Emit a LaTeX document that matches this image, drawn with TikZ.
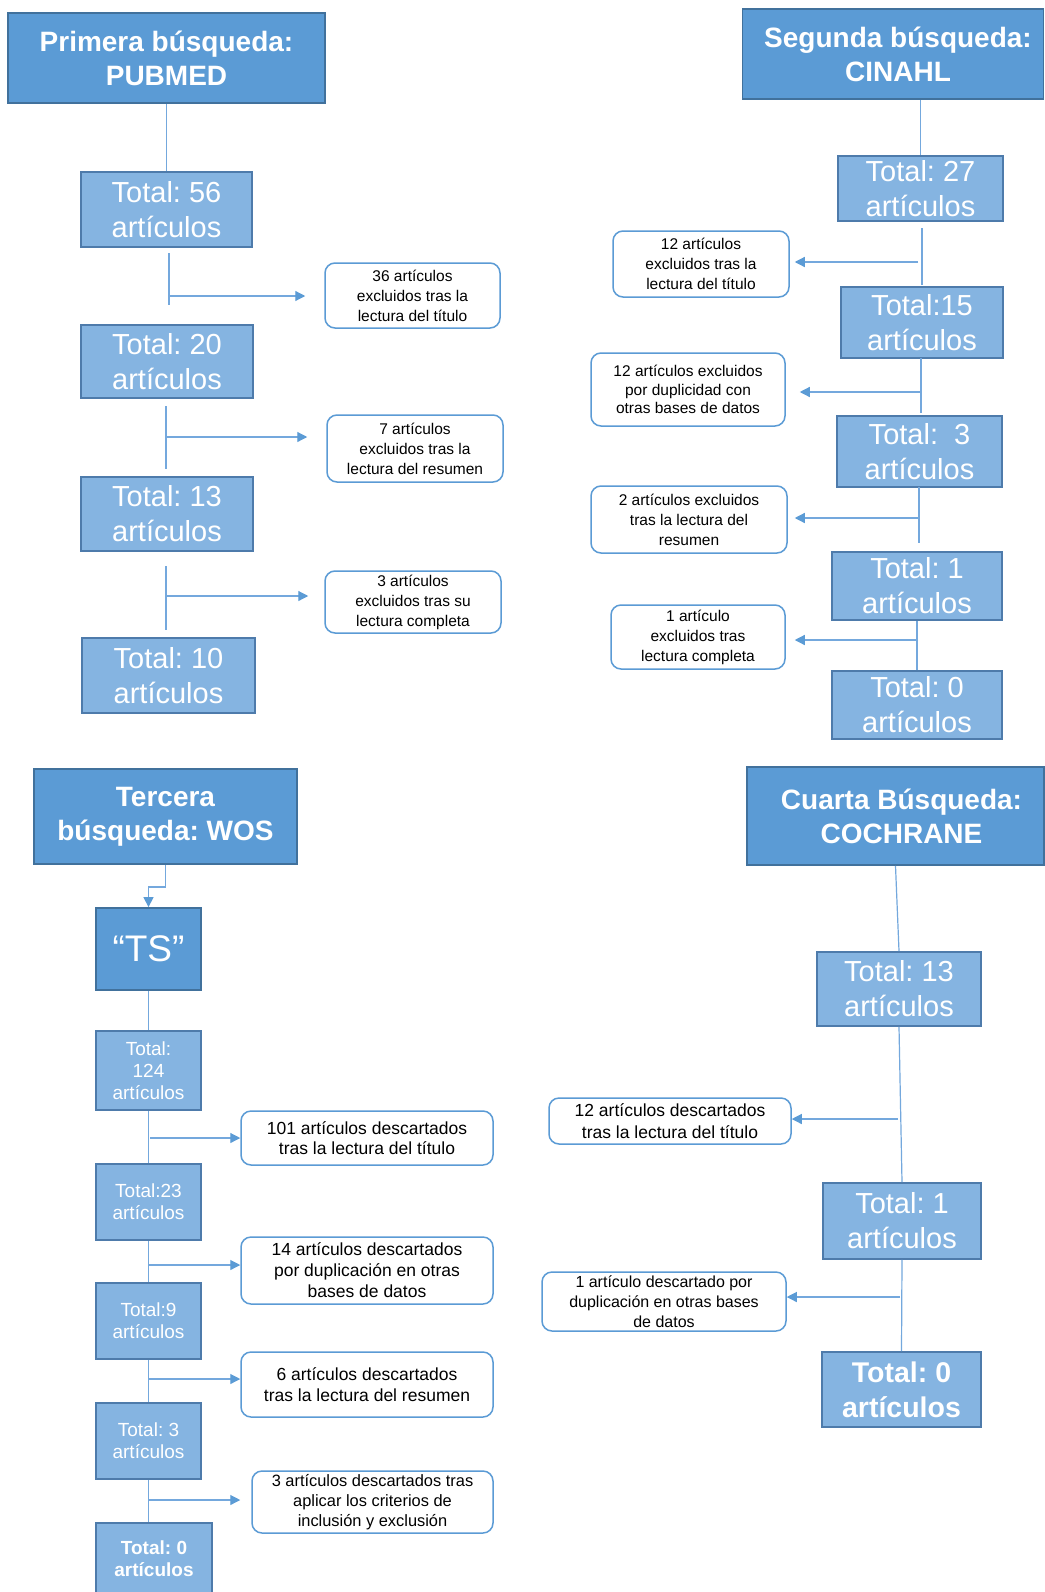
\documentclass[tikz,border=0pt]{standalone}
\usepackage{fontspec}
\setmainfont{Liberation Sans}
\usetikzlibrary{arrows.meta,calc}
\definecolor{titlefill}{HTML}{5B9BD5}
\definecolor{titledraw}{HTML}{41719C}
\definecolor{totfill}{HTML}{85B4E1}
\definecolor{totdraw}{HTML}{4E7BAB}
\definecolor{conncol}{HTML}{74A8DD}
\definecolor{tipcol}{HTML}{5B9BD5}
\definecolor{notedraw}{HTML}{5B9BD5}
\tikzset{
 titlebox/.style={draw=titledraw, fill=titlefill, line width=1.8pt, text=white, align=center, inner sep=0pt, font=\fontsize{28}{34}\selectfont\bfseries},
 totbox/.style={draw=totdraw, fill=totfill, line width=1.8pt, text=white, align=center, inner sep=0pt, font=\fontsize{29}{35}\selectfont},
 smalltot/.style={totbox, font=\fontsize{19}{22}\selectfont},
 note/.style={draw=notedraw, fill=white, line width=1.5pt, rounded corners=10pt, align=center, inner sep=0pt, text=black, font=\fontsize{15.5}{20}\selectfont},
 bignote/.style={note, font=\fontsize{17.5}{21}\selectfont},
 conn/.style={draw=conncol, line width=1.2pt},
 arr/.style={conn, -{Triangle[length=10pt,width=10pt,color=tipcol]}},
}
\begin{document}
\frenchspacing
\begin{tikzpicture}[x=1pt,y=-1pt]
\useasboundingbox[fill=white] (0,0) rectangle (1044,1592);
% ---------- Primera busqueda ----------
\node[titlebox, minimum width=317pt, minimum height=90pt] (t1) at (166.5,58) {Primera búsqueda:\\PUBMED};
\node[totbox, minimum width=171pt, minimum height=75pt] (a56) at (166.5,209.5) {Total: 56\\artículos};
\node[totbox, minimum width=172pt, minimum height=73pt] (a20) at (167,361.5) {Total: 20\\artículos};
\node[totbox, minimum width=172pt, minimum height=74pt] (a13) at (167,514) {Total: 13\\artículos};
\node[totbox, minimum width=173pt, minimum height=75pt] (a10) at (168.5,675.5) {Total: 10\\artículos};
\node[note, minimum width=175pt, minimum height=65pt] (e36) at (412.5,295.5) {36 artículos\\excluidos tras la\\lectura del título};
\node[note, minimum width=176pt, minimum height=67pt] (e7) at (415,448.5) {7 artículos\\excluidos tras la\\lectura del resumen};
\node[note, minimum width=176pt, minimum height=62pt] (e3) at (413,602) {3 artículos\\excluidos tras su\\lectura completa};
\draw[conn] (t1.south) -- (a56.north);
\coordinate (l1a) at (169,253); \coordinate (l1b) at (169,305); \coordinate (l1m) at (169,296);
\coordinate (l2a) at (166,406); \coordinate (l2b) at (166,469); \coordinate (l2m) at (166,437);
\coordinate (l3a) at (166,566); \coordinate (l3b) at (166,630); \coordinate (l3m) at (166,596);
\draw[conn] (l1a) -- (l1b);
\draw[conn] (l2a) -- (l2b);
\draw[conn] (l3a) -- (l3b);
\draw[arr, shorten >=19pt] (l1m) -- (l1m -| e36.west);
\draw[arr, shorten >=19pt] (l2m) -- (l2m -| e7.west);
\draw[arr, shorten >=16pt] (l3m) -- (l3m -| e3.west);
% ---------- Segunda busqueda ----------
\node[titlebox, minimum width=301pt, minimum height=90pt] (t2) at (893,54) {\hspace*{10pt}Segunda búsqueda:\\\hspace*{10pt}CINAHL};
\node[totbox, minimum width=165pt, minimum height=65pt] (b27) at (920.5,188.5) {Total: 27\\artículos};
\node[totbox, minimum width=162pt, minimum height=71pt] (b15) at (922,322.5) {Total:15\\artículos};
\node[totbox, minimum width=165pt, minimum height=71pt] (b3) at (919.5,451.5) {Total:~~3\\artículos};
\node[totbox, minimum width=170pt, minimum height=68pt] (b1) at (917,586) {Total: 1\\artículos};
\node[totbox, minimum width=170pt, minimum height=68pt] (b0) at (917,705) {Total: 0\\artículos};
\node[note, minimum width=176pt, minimum height=66pt] (f12) at (701,264) {12 artículos\\excluidos tras la\\lectura del título};
\node[note, minimum width=194pt, minimum height=73pt, font=\fontsize{15.5}{18.5}\selectfont] (fdup) at (688,389.5) {12 artículos excluidos\\por duplicidad con\\otras bases de datos};
\node[note, minimum width=196pt, minimum height=67pt] (f2) at (689,519.5) {2 artículos excluidos\\tras la lectura del\\resumen};
\node[note, minimum width=174pt, minimum height=64pt] (f1) at (698,637) {1 artículo\\excluidos tras\\lectura completa};
\draw[conn] (b27.north) -- (b27.north |- t2.south);
\coordinate (r1a) at (922,228); \coordinate (r1b) at (922,285); \coordinate (r1m) at (918,262);
\coordinate (r2a) at (921,358); \coordinate (r2b) at (921,413); \coordinate (r2m) at (921,392);
\coordinate (r3a) at (919,487); \coordinate (r3b) at (919,543); \coordinate (r3m) at (918,518);
\coordinate (r4m) at (918,640);
\draw[conn] (r1a) -- (r1b);
\draw[conn] (r2a) -- (r2b);
\draw[conn] (r3a) -- (r3b);
\draw[conn] (b1.south) -- (b0.north);
\draw[arr, shorten >=5pt] (r1m) -- (r1m -| f12.east);
\draw[arr, shorten >=14pt] (r2m) -- (r2m -| fdup.east);
\draw[arr, shorten >=7pt] (r3m) -- (r3m -| f2.east);
\draw[arr, shorten >=9pt] (r4m) -- (r4m -| f1.east);
% ---------- Tercera busqueda ----------
\node[titlebox, minimum width=263pt, minimum height=95pt] (t3) at (165.5,816.5) {Tercera\\búsqueda: WOS};
\node[draw=titledraw, fill=titlefill, line width=1.8pt, text=white, inner sep=0pt, minimum width=105pt, minimum height=82pt, font=\fontsize{37}{40}\selectfont] (ts) at (148.5,949) {“TS”};
\node[smalltot, minimum width=105pt, minimum height=79pt] (w124) at (148.5,1070.5) {Total:\\124\\artículos};
\node[smalltot, minimum width=105pt, minimum height=76pt] (w23) at (148.5,1202) {Total:23\\artículos};
\node[smalltot, minimum width=105pt, minimum height=76pt] (w9) at (148.5,1321) {Total:9\\artículos};
\node[smalltot, minimum width=105pt, minimum height=76pt] (w3) at (148.5,1441) {Total: 3\\artículos};
\node[smalltot, minimum width=116pt, minimum height=71pt, font=\fontsize{19}{22}\selectfont\bfseries] (w0) at (154,1558.5) {Total: 0\\artículos};
\node[bignote, minimum width=252pt, minimum height=54pt, font=\fontsize{17.5}{20}\selectfont] (g101) at (367,1138) {101 artículos descartados\\tras la lectura del título};
\node[bignote, minimum width=252pt, minimum height=67pt] (g14) at (367,1270.5) {14 artículos descartados\\por duplicación en otras\\bases de datos};
\node[bignote, minimum width=252pt, minimum height=65pt] (g6) at (367,1384.5) {6 artículos descartados\\tras la lectura del resumen};
\node[note, minimum width=241pt, minimum height=62pt, font=\fontsize{16.4}{20}\selectfont] (g3) at (372.5,1502) {3 artículos descartados tras\\aplicar los criterios de\\inclusión y exclusión};
\coordinate (k3) at (0,887);
\draw[arr] (t3.south) -- (t3.south |- k3) -| (ts.north);
\draw[conn] (ts.south) -- (w124.north);
\draw[conn] (w124.south) -- (w23.north);
\draw[conn] (w23.south) -- (w9.north);
\draw[conn] (w9.south) -- (w3.north);
\draw[conn] (w3.south) -- (w3.south |- w0.north);
\coordinate (w1m) at (150,1138); \coordinate (w2m) at (148,1265);
\coordinate (w3m) at (148,1379); \coordinate (w4m) at (148,1500);
\draw[arr] (w1m) -- (w1m -| g101.west);
\draw[arr] (w2m) -- (w2m -| g14.west);
\draw[arr] (w3m) -- (w3m -| g6.west);
\draw[arr, shorten >=11pt] (w4m) -- (w4m -| g3.west);
% ---------- Cuarta busqueda ----------
\node[titlebox, minimum width=297pt, minimum height=98pt] (t4) at (895.5,816) {\hspace*{12pt}Cuarta Búsqueda:\\\hspace*{12pt}COCHRANE};
\node[totbox, minimum width=164pt, minimum height=74pt] (c13) at (899,989) {Total: 13\\artículos};
\node[totbox, minimum width=158pt, minimum height=76pt] (c1) at (902,1221) {Total: 1\\artículos};
\node[totbox, minimum width=159pt, minimum height=75pt, font=\fontsize{28.5}{35}\selectfont\bfseries] (c0) at (901.5,1389.5) {Total: 0\\artículos};
\node[bignote, minimum width=242pt, minimum height=46pt, font=\fontsize{17.5}{22}\selectfont] (h12) at (670,1121) {12 artículos descartados\\tras la lectura del título};
\node[note, minimum width=244pt, minimum height=59pt, font=\fontsize{16}{20}\selectfont] (h1) at (664,1301.5) {1 artículo descartado por\\duplicación en otras bases\\de datos};
\draw[conn] (t4.south) -- (c13.north);
\draw[conn] (c13.south) -- (c1.north);
\draw[conn] (c1.south) -- (c0.north);
\coordinate (c1m) at (898,1119); \coordinate (c2m) at (900,1297);
\draw[arr] (c1m) -- (c1m -| h12.east);
\draw[arr] (c2m) -- (c2m -| h1.east);
\end{tikzpicture}
\end{document}
